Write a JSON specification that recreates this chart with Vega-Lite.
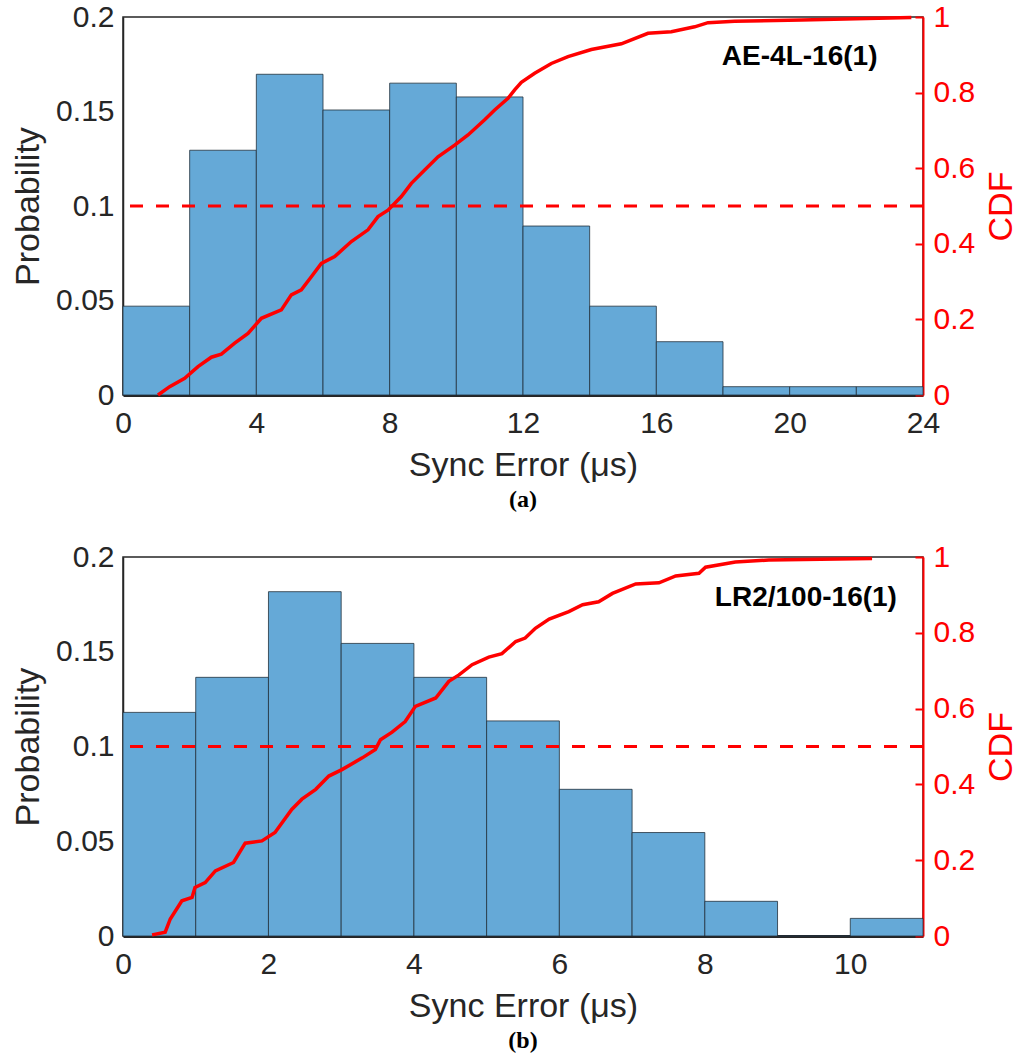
{
  "$schema": "https://vega.github.io/schema/vega-lite/v6.json",
  "padding": {"left": 10, "top": 1, "right": 0, "bottom": 0},
  "background": "white",
  "spacing": 28,
  "config": {
    "font": "Liberation Sans",
    "view": {"stroke": "#262626", "strokeWidth": 1.5},
    "axis": {"labelFont": "Liberation Sans", "titleFont": "Liberation Sans", "labelColor": "#262626", "titleColor": "#262626", "titleFontWeight": "normal", "grid": false, "labelFlush": false, "labelOverlap": false}
  },
  "datasets": {
    "histA": [
      {"lo": 0, "hi": 2, "p": 0.047},
      {"lo": 2, "hi": 4, "p": 0.1295},
      {"lo": 4, "hi": 6, "p": 0.1697},
      {"lo": 6, "hi": 8, "p": 0.1508},
      {"lo": 8, "hi": 10, "p": 0.165},
      {"lo": 10, "hi": 12, "p": 0.1577},
      {"lo": 12, "hi": 14, "p": 0.0894},
      {"lo": 14, "hi": 16, "p": 0.047},
      {"lo": 16, "hi": 18, "p": 0.0282},
      {"lo": 18, "hi": 20, "p": 0.0044},
      {"lo": 20, "hi": 22, "p": 0.0044},
      {"lo": 22, "hi": 24, "p": 0.0044}
    ],
    "cdfA": [
      {"x": 1.05, "cdf": 0}, {"x": 1.4, "cdf": 0.022}, {"x": 1.85, "cdf": 0.044}, {"x": 2.25, "cdf": 0.075},
      {"x": 2.65, "cdf": 0.1}, {"x": 2.95, "cdf": 0.108}, {"x": 3.35, "cdf": 0.137}, {"x": 3.75, "cdf": 0.163},
      {"x": 4.15, "cdf": 0.203}, {"x": 4.75, "cdf": 0.225}, {"x": 5.05, "cdf": 0.265}, {"x": 5.35, "cdf": 0.278},
      {"x": 5.65, "cdf": 0.313}, {"x": 5.95, "cdf": 0.348}, {"x": 6.35, "cdf": 0.366}, {"x": 6.85, "cdf": 0.406},
      {"x": 7.35, "cdf": 0.437}, {"x": 7.65, "cdf": 0.472}, {"x": 7.95, "cdf": 0.489}, {"x": 8.35, "cdf": 0.525},
      {"x": 8.65, "cdf": 0.56}, {"x": 9.05, "cdf": 0.595}, {"x": 9.45, "cdf": 0.63}, {"x": 9.95, "cdf": 0.661},
      {"x": 10.35, "cdf": 0.688}, {"x": 10.85, "cdf": 0.728}, {"x": 11.15, "cdf": 0.754}, {"x": 11.55, "cdf": 0.785},
      {"x": 11.75, "cdf": 0.807}, {"x": 11.95, "cdf": 0.827}, {"x": 12.35, "cdf": 0.851}, {"x": 12.85, "cdf": 0.877},
      {"x": 13.35, "cdf": 0.895}, {"x": 14.05, "cdf": 0.914}, {"x": 14.95, "cdf": 0.929}, {"x": 15.75, "cdf": 0.957},
      {"x": 16.45, "cdf": 0.961}, {"x": 17.15, "cdf": 0.974}, {"x": 17.55, "cdf": 0.985}, {"x": 18.35, "cdf": 0.989},
      {"x": 20.35, "cdf": 0.992}, {"x": 23.65, "cdf": 0.999}
    ],
    "histB": [
      {"lo": 0, "hi": 1, "p": 0.118},
      {"lo": 1, "hi": 2, "p": 0.1365},
      {"lo": 2, "hi": 3, "p": 0.1817},
      {"lo": 3, "hi": 4, "p": 0.1544},
      {"lo": 4, "hi": 5, "p": 0.1365},
      {"lo": 5, "hi": 6, "p": 0.1135},
      {"lo": 6, "hi": 7, "p": 0.0774},
      {"lo": 7, "hi": 8, "p": 0.0546},
      {"lo": 8, "hi": 9, "p": 0.0183},
      {"lo": 9, "hi": 10, "p": 0},
      {"lo": 10, "hi": 11, "p": 0.0093}
    ],
    "cdfB": [
      {"x": 0.4, "cdf": 0.003}, {"x": 0.58, "cdf": 0.01}, {"x": 0.65, "cdf": 0.045}, {"x": 0.81, "cdf": 0.093},
      {"x": 0.95, "cdf": 0.102}, {"x": 0.99, "cdf": 0.128}, {"x": 1.13, "cdf": 0.141}, {"x": 1.27, "cdf": 0.172},
      {"x": 1.52, "cdf": 0.194}, {"x": 1.68, "cdf": 0.245}, {"x": 1.91, "cdf": 0.251}, {"x": 2.09, "cdf": 0.273},
      {"x": 2.32, "cdf": 0.334}, {"x": 2.46, "cdf": 0.361}, {"x": 2.65, "cdf": 0.387}, {"x": 2.83, "cdf": 0.422},
      {"x": 3.01, "cdf": 0.439}, {"x": 3.29, "cdf": 0.47}, {"x": 3.47, "cdf": 0.492}, {"x": 3.54, "cdf": 0.518},
      {"x": 3.7, "cdf": 0.538}, {"x": 3.88, "cdf": 0.566}, {"x": 4.02, "cdf": 0.606}, {"x": 4.3, "cdf": 0.628},
      {"x": 4.48, "cdf": 0.672}, {"x": 4.62, "cdf": 0.689}, {"x": 4.8, "cdf": 0.716}, {"x": 5.03, "cdf": 0.736},
      {"x": 5.21, "cdf": 0.745}, {"x": 5.4, "cdf": 0.777}, {"x": 5.53, "cdf": 0.786}, {"x": 5.67, "cdf": 0.812},
      {"x": 5.86, "cdf": 0.836}, {"x": 6.13, "cdf": 0.856}, {"x": 6.32, "cdf": 0.874}, {"x": 6.54, "cdf": 0.882},
      {"x": 6.73, "cdf": 0.904}, {"x": 7.05, "cdf": 0.929}, {"x": 7.37, "cdf": 0.932}, {"x": 7.6, "cdf": 0.95},
      {"x": 7.92, "cdf": 0.957}, {"x": 8.01, "cdf": 0.973}, {"x": 8.42, "cdf": 0.987}, {"x": 8.88, "cdf": 0.992},
      {"x": 10.3, "cdf": 0.996}
    ]
  },
  "vconcat": [
    {
      "width": 800,
      "height": 378,
      "title": {"text": "(a)", "orient": "bottom", "font": "Liberation Serif", "fontWeight": "bold", "fontSize": 24, "color": "#000000", "offset": 6},
      "layer": [
        {
          "data": {"name": "histA"},
          "mark": {"type": "rect", "fill": "#65A9D7", "stroke": "#22313c", "strokeWidth": 0.8},
          "encoding": {
            "x": {"field": "lo", "type": "quantitative", "scale": {"domain": [0, 24], "nice": false},
              "axis": {"values": [0, 4, 8, 12, 16, 20, 24], "format": "~g", "title": "Sync Error (μs)", "ticks": false, "labelFontSize": 30, "titleFontSize": 34, "labelPadding": 13, "titlePadding": 10, "domainColor": "#262626", "domainWidth": 3}},
            "x2": {"field": "hi"},
            "y": {"field": "p", "type": "quantitative", "scale": {"domain": [0, 0.2], "nice": false},
              "axis": {"values": [0, 0.05, 0.1, 0.15, 0.2], "format": "~g", "title": "Probability", "ticks": false, "labelFontSize": 30, "titleFontSize": 34, "labelPadding": 9, "titlePadding": 10, "domainColor": "#262626", "domainWidth": 1.5}}
          }
        },
        {
          "layer": [
            {
              "data": {"name": "cdfA"},
              "mark": {"type": "line", "color": "#FF0000", "strokeWidth": 3.5},
              "encoding": {
                "x": {"field": "x", "type": "quantitative", "axis": {"values": [0, 4, 8, 12, 16, 20, 24], "format": "~g", "title": "Sync Error (μs)", "ticks": false, "labelFontSize": 30, "titleFontSize": 34, "labelPadding": 13, "titlePadding": 10, "domainColor": "#262626", "domainWidth": 3}},
                "y": {"field": "cdf", "type": "quantitative", "scale": {"domain": [0, 1], "nice": false},
                  "axis": {"orient": "right", "values": [0, 0.2, 0.4, 0.6, 0.8, 1], "format": "~g", "title": "CDF", "titleAngle": 270, "titleBaseline": "top", "labelFontSize": 30, "titleFontSize": 34, "labelColor": "#FF0000", "titleColor": "#FF0000", "domainColor": "#FF0000", "domainWidth": 2, "tickColor": "#FF0000", "tickWidth": 2, "tickSize": -8, "labelPadding": 18, "titlePadding": 10}}
              }
            },
            {
              "data": {"values": [{}]},
              "mark": {"type": "rule", "color": "#FF0000", "strokeWidth": 3, "strokeDash": [13, 13]},
              "encoding": {"y": {"datum": 0.5, "type": "quantitative"}}
            },
            {
              "data": {"values": [{}]},
              "mark": {"type": "text", "font": "Liberation Sans", "fontWeight": "bold", "fontSize": 28, "color": "#000000", "align": "center", "baseline": "middle"},
              "encoding": {"x": {"datum": 20.3, "type": "quantitative"}, "y": {"datum": 0.894, "type": "quantitative"}, "text": {"value": "AE-4L-16(1)"}}
            }
          ]
        }
      ],
      "resolve": {"scale": {"y": "independent"}}
    },
    {
      "width": 800,
      "height": 379,
      "title": {"text": "(b)", "orient": "bottom", "font": "Liberation Serif", "fontWeight": "bold", "fontSize": 24, "color": "#000000", "offset": 6},
      "layer": [
        {
          "data": {"name": "histB"},
          "mark": {"type": "rect", "fill": "#65A9D7", "stroke": "#22313c", "strokeWidth": 0.8},
          "encoding": {
            "x": {"field": "lo", "type": "quantitative", "scale": {"domain": [0, 11], "nice": false},
              "axis": {"values": [0, 2, 4, 6, 8, 10], "format": "~g", "title": "Sync Error (μs)", "ticks": false, "labelFontSize": 30, "titleFontSize": 34, "labelPadding": 13, "titlePadding": 10, "domainColor": "#262626", "domainWidth": 3}},
            "x2": {"field": "hi"},
            "y": {"field": "p", "type": "quantitative", "scale": {"domain": [0, 0.2], "nice": false},
              "axis": {"values": [0, 0.05, 0.1, 0.15, 0.2], "format": "~g", "title": "Probability", "ticks": false, "labelFontSize": 30, "titleFontSize": 34, "labelPadding": 9, "titlePadding": 10, "domainColor": "#262626", "domainWidth": 1.5}}
          }
        },
        {
          "layer": [
            {
              "data": {"name": "cdfB"},
              "mark": {"type": "line", "color": "#FF0000", "strokeWidth": 3.5},
              "encoding": {
                "x": {"field": "x", "type": "quantitative", "axis": {"values": [0, 2, 4, 6, 8, 10], "format": "~g", "title": "Sync Error (μs)", "ticks": false, "labelFontSize": 30, "titleFontSize": 34, "labelPadding": 13, "titlePadding": 10, "domainColor": "#262626", "domainWidth": 3}},
                "y": {"field": "cdf", "type": "quantitative", "scale": {"domain": [0, 1], "nice": false},
                  "axis": {"orient": "right", "values": [0, 0.2, 0.4, 0.6, 0.8, 1], "format": "~g", "title": "CDF", "titleAngle": 270, "titleBaseline": "top", "labelFontSize": 30, "titleFontSize": 34, "labelColor": "#FF0000", "titleColor": "#FF0000", "domainColor": "#FF0000", "domainWidth": 2, "tickColor": "#FF0000", "tickWidth": 2, "tickSize": -8, "labelPadding": 18, "titlePadding": 10}}
              }
            },
            {
              "data": {"values": [{}]},
              "mark": {"type": "rule", "color": "#FF0000", "strokeWidth": 3, "strokeDash": [13, 13]},
              "encoding": {"y": {"datum": 0.5, "type": "quantitative"}}
            },
            {
              "data": {"values": [{}]},
              "mark": {"type": "text", "font": "Liberation Sans", "fontWeight": "bold", "fontSize": 28, "color": "#000000", "align": "center", "baseline": "middle"},
              "encoding": {"x": {"datum": 9.39, "type": "quantitative"}, "y": {"datum": 0.893, "type": "quantitative"}, "text": {"value": "LR2/100-16(1)"}}
            }
          ]
        }
      ],
      "resolve": {"scale": {"y": "independent"}}
    }
  ]
}
